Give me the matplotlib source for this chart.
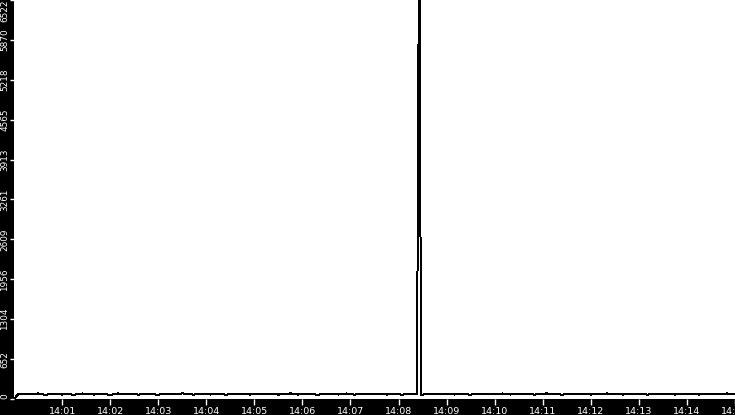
import numpy as np
import matplotlib
matplotlib.use("Agg")
import matplotlib.pyplot as plt
import matplotlib.dates as mdates

# baseline samples every 5 s from 14:00:00 to 14:15:00
base_sec = np.arange(0, 905, 5)
base_val = [
    0, 78, 82, 74, 86, 80, 92, 76, 70, 84, 79, 88, 73, 81, 77, 69, 85, 90, 75, 80,
    72, 83, 87, 76, 68, 79, 91, 84, 74, 80, 86, 71, 77, 89, 82, 75, 70, 83, 88, 78,
    74, 81, 93, 85, 76, 72, 84, 79, 87, 73, 80, 90, 77, 70, 83, 86, 75, 81, 78, 72,
    85, 89, 76, 80, 74, 82, 71, 86, 79, 92, 77, 73, 84, 80, 88, 75, 70, 82, 87, 76,
    79, 73, 85, 90, 78, 71, 83, 76, 88, 81, 74, 80, 86, 72, 77, 84, 79, 70, 82, 75,
    78, 74, 72, 84, 80, 76, 89, 74, 81, 86, 73, 79, 85, 77, 70, 83, 88, 75, 80, 84,
    76, 82, 90, 79, 73, 85, 81, 74, 87, 78, 71, 84, 80, 92, 76, 83, 77, 70, 86, 81,
    74, 88, 79, 83, 72, 80, 86, 77, 91, 75, 82, 78, 73, 85, 89, 76, 80, 84, 71, 79,
    87, 75, 82, 78, 90, 73, 81, 86, 76, 84, 79, 72, 88, 80, 74, 85, 77, 83, 91, 78,
    82,
]

# spike around 14:08:24 (peak goes off the top of the chart)
spike_sec = [503, 506, 508]
spike_val = [80, 9000, 70]

y_ticks = [0, 652, 1304, 1956, 2609, 3261, 3913, 4565, 5218, 5870, 6522]
x_minutes = list(range(1, 16))

base_val = np.array(base_val, dtype=float)
keep = (base_sec < 502) | (base_sec > 509)
sec = np.concatenate([base_sec[keep], spike_sec])
val = np.concatenate([base_val[keep], spike_val])
order = np.argsort(sec)
sec, val = sec[order], val[order]

t0 = np.datetime64("2024-01-01T14:00:00")
times = t0 + sec.astype("timedelta64[s]")

fig = plt.figure(figsize=(7.35, 4.15), dpi=100, facecolor="black")
ax = fig.add_axes([14 / 735, 16 / 415, 721 / 735, 399 / 415])
ax.set_facecolor("white")
ax.plot(times, val, color="black", lw=0.72, antialiased=False)

ax.set_xlim(t0, t0 + np.timedelta64(900, "s"))
ax.set_ylim(0, 6522)

ax.set_xticks([t0 + np.timedelta64(m * 60, "s") for m in x_minutes])
ax.xaxis.set_major_formatter(mdates.DateFormatter("%H:%M"))
ax.set_yticks(y_ticks)
ylabels = ax.set_yticklabels([str(v) for v in y_ticks], rotation=90, va="center")
ylabels[-1].set_va("top")
ylabels[0].set_va("bottom")

for s in ax.spines.values():
    s.set_visible(False)
ax.tick_params(axis="x", colors="white", length=4, width=1, pad=2, labelsize=6.8)
ax.tick_params(axis="y", colors="white", length=3, width=1, pad=0.5, labelsize=6.4)

fig.savefig("out.png", dpi=100, facecolor="black")
